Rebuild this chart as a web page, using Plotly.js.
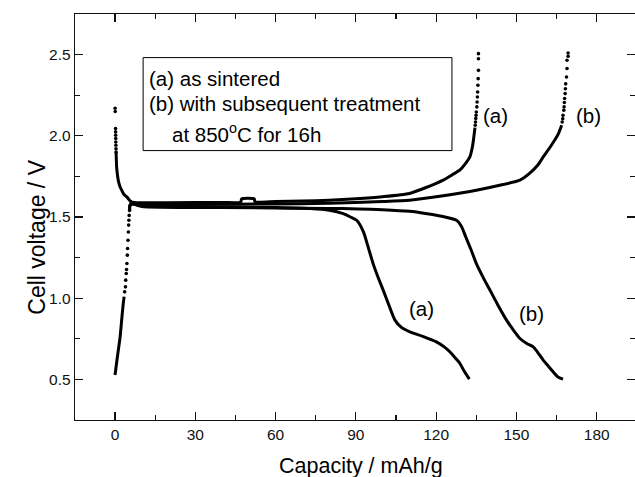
<!DOCTYPE html>
<html>
<head>
<meta charset="utf-8">
<script src="https://cdn.plot.ly/plotly-3.0.1.min.js"></script>
<style>html,body{margin:0;padding:0;background:#fff;overflow:hidden}#chart{width:635px;height:477px}</style>
</head>
<body>
<div id="chart"></div>
<script>
// ---- data (capacity in mAh/g, voltage in V) ----
// start of discharge (shared by a and b): sparse dots then dense line
var dischargeStartDotsCap = [0.05, 0.08, 0.2, 0.22, 0.25, 0.28, 0.3, 0.33, 0.36, 0.4];
var dischargeStartDotsV   = [2.17, 2.15, 2.045, 2.024, 2.003, 1.983, 1.962, 1.942, 1.92, 1.90];

// start of charge (shared by a and b): dense line then sparse dots
var chargeStartCap = [0.0, 0.2, 0.5, 0.9, 1.4, 1.9, 2.4, 2.8, 3.1, 3.4];
var chargeStartV   = [0.527, 0.55, 0.59, 0.64, 0.70, 0.76, 0.85, 0.92, 0.97, 1.01];
var chargeStartDotsCap = [3.6, 3.9, 4.0, 4.2, 4.3, 4.45, 4.6, 4.7, 4.85, 5.0, 5.1, 5.2, 5.3, 5.45];
var chargeStartDotsV   = [1.039, 1.07, 1.111, 1.152, 1.177, 1.214, 1.265, 1.306, 1.357, 1.408, 1.45, 1.48, 1.51, 1.54];

// (a) as sintered — discharge
var dischargeACap = [0.4, 0.5, 0.6, 0.9, 1.2, 1.8, 2.5, 3.3, 4.4, 5.6, 7, 10, 30, 60, 73, 80, 85.3, 88, 90.3, 92.8, 94.5, 96.5, 98.5, 100.2, 102.5, 104.6, 107, 110.2, 115, 120.1, 123, 125.1, 127, 128.9, 130.5, 132.4];
var dischargeAV   = [1.90, 1.85, 1.808, 1.76, 1.727, 1.69, 1.665, 1.64, 1.624, 1.60, 1.585, 1.572, 1.565, 1.558, 1.552, 1.542, 1.521, 1.50, 1.48, 1.41, 1.32, 1.21, 1.12, 1.05, 0.95, 0.865, 0.82, 0.793, 0.765, 0.731, 0.70, 0.67, 0.635, 0.598, 0.55, 0.502];
// (a) as sintered — charge
var chargeACap = [5.45, 5.6, 6.5, 8, 20, 40, 47, 47.3, 52, 52.3, 60, 70, 80, 90, 100, 110, 116, 122.6, 126, 128.9, 131, 132.6, 133.4, 133.9, 134.5];
var chargeAV   = [1.54, 1.575, 1.59, 1.588, 1.588, 1.59, 1.592, 1.612, 1.612, 1.594, 1.595, 1.598, 1.603, 1.612, 1.625, 1.645, 1.68, 1.727, 1.76, 1.79, 1.83, 1.87, 1.92, 1.97, 2.05];
var chargeADotsCap = [134.6, 134.7, 134.8, 134.9, 135.0, 135.2, 135.3, 135.4, 135.5, 135.6, 135.7, 135.8, 135.8, 135.8];
var chargeADotsV   = [2.065, 2.085, 2.106, 2.126, 2.147, 2.178, 2.208, 2.239, 2.27, 2.311, 2.352, 2.403, 2.474, 2.506];

// (b) with subsequent treatment — discharge
var dischargeBCap = [5.6, 7, 10, 40, 80, 91, 100, 110, 116, 122, 127.6, 129.5, 131, 133, 135.1, 137.5, 140.1, 143, 146.3, 149, 151.3, 154, 156.3, 158, 160, 162, 163.7, 165.5, 167.4];
var dischargeBV   = [1.60, 1.58, 1.565, 1.558, 1.553, 1.55, 1.545, 1.535, 1.522, 1.505, 1.48, 1.44, 1.38, 1.30, 1.21, 1.13, 1.05, 0.96, 0.865, 0.80, 0.752, 0.72, 0.70, 0.665, 0.619, 0.58, 0.547, 0.515, 0.502];
// (b) with subsequent treatment — charge
var chargeBCap = [5.45, 5.6, 6.5, 30, 60, 80, 100, 110, 120, 135, 145, 151.3, 155, 158, 160, 163, 165.6, 166.9];
var chargeBV   = [1.54, 1.57, 1.578, 1.578, 1.58, 1.585, 1.595, 1.603, 1.625, 1.665, 1.70, 1.727, 1.77, 1.82, 1.87, 1.94, 2.01, 2.065];
var chargeBDotsCap = [167.1, 167.3, 167.4, 167.7, 167.8, 167.9, 168.0, 168.2, 168.3, 168.4, 168.7, 168.9, 168.9, 169.3, 169.3];
var chargeBDotsV   = [2.085, 2.105, 2.126, 2.157, 2.178, 2.205, 2.23, 2.26, 2.29, 2.32, 2.362, 2.414, 2.465, 2.49, 2.51];

// tick values
var xTicks = [0, 30, 60, 90, 120, 150, 180];
var yTicks = [0.5, 1.0, 1.5, 2.0, 2.5];

var FONT = 'Liberation Sans, Arial, Helvetica, sans-serif';
var dotStyle = {color: '#000', size: 3.6};

function lineTrace(x, y) {
  return {x: x, y: y, type: 'scatter', mode: 'lines',
          line: {color: '#000', width: 3, shape: 'spline', smoothing: 0.6}, hoverinfo: 'skip'};
}
function dotTrace(x, y) { return {x: x, y: y, type: 'scatter', mode: 'markers', marker: dotStyle, hoverinfo: 'skip'}; }

var traces = [
  lineTrace(chargeStartCap, chargeStartV),
  dotTrace(chargeStartDotsCap, chargeStartDotsV),
  dotTrace(dischargeStartDotsCap, dischargeStartDotsV),
  lineTrace(dischargeACap, dischargeAV),
  lineTrace(chargeACap, chargeAV),
  dotTrace(chargeADotsCap, chargeADotsV),
  lineTrace(dischargeBCap, dischargeBV),
  lineTrace(chargeBCap, chargeBV),
  dotTrace(chargeBDotsCap, chargeBDotsV)
];

var labelFont = {family: FONT, size: 20.5, color: '#000'};
var layout = {
  width: 635, height: 477,
  margin: {l: 75, r: 0, t: 14, b: 57},
  paper_bgcolor: '#fff', plot_bgcolor: '#fff',
  showlegend: false,
  font: {family: FONT, color: '#000'},
  xaxis: {
    range: [-14.95, 194.3], tickvals: xTicks, ticktext: xTicks.map(String),
    ticks: 'inside', ticklen: 8, tickwidth: 1.2, tickcolor: '#111',
    minor: {dtick: 15, tick0: 0, ticks: 'inside', ticklen: 5, tickcolor: '#111', showgrid: false},
    showline: true, linecolor: '#111', linewidth: 1.3, mirror: 'ticks',
    showgrid: false, zeroline: false,
    tickfont: {family: FONT, size: 15.5, color: '#111'}
  },
  yaxis: {
    range: [0.25, 2.75], tickvals: yTicks, ticktext: yTicks.map(function(v){return v.toFixed(1);}),
    ticks: 'inside', ticklen: 8, tickwidth: 1.2, tickcolor: '#111',
    minor: {dtick: 0.25, tick0: 0, ticks: 'inside', ticklen: 5, tickcolor: '#111', showgrid: false},
    showline: true, linecolor: '#111', linewidth: 1.3, mirror: 'ticks',
    showgrid: false, zeroline: false,
    tickfont: {family: FONT, size: 15.5, color: '#111'}
  },
  shapes: [
    {type: 'rect', xref: 'x', yref: 'y', x0: 10.5, x1: 125.9, y0: 1.909, y1: 2.4815,
     line: {color: '#000', width: 1}, fillcolor: 'rgba(0,0,0,0)'}
  ],
  annotations: [
    {xref: 'x', yref: 'y', x: 11.85, y: 2.352, xanchor: 'left', yanchor: 'middle', showarrow: false,
     text: '(a) as sintered', font: labelFont},
    {xref: 'x', yref: 'y', x: 11.85, y: 2.202, xanchor: 'left', yanchor: 'middle', showarrow: false,
     text: '(b) with subsequent treatment', font: labelFont},
    {xref: 'x', yref: 'y', x: 20.55, y: 2.018, xanchor: 'left', yanchor: 'middle', showarrow: false,
     text: 'at 850<sup>o</sup>C for 16h', font: labelFont},
    {xref: 'x', yref: 'y', x: 142.0, y: 2.126, showarrow: false, text: '(a)', font: labelFont},
    {xref: 'x', yref: 'y', x: 176.9, y: 2.126, showarrow: false, text: '(b)', font: labelFont},
    {xref: 'x', yref: 'y', x: 114.6, y: 0.937, showarrow: false, text: '(a)', font: labelFont},
    {xref: 'x', yref: 'y', x: 155.7, y: 0.906, showarrow: false, text: '(b)', font: labelFont},
    {xref: 'paper', yref: 'paper', x: -0.095, y: 0.451, textangle: -90, showarrow: false,
     text: 'Cell voltage / V', font: {family: FONT, size: 23, color: '#000'}},
    {xref: 'paper', yref: 'paper', x: 0.51, y: -0.147, showarrow: false,
     text: 'Capacity / mAh/g', font: {family: FONT, size: 21.5, color: '#000'}}
  ]
};

Plotly.newPlot('chart', traces, layout, {staticPlot: true, displayModeBar: false});
</script>
</body>
</html>
